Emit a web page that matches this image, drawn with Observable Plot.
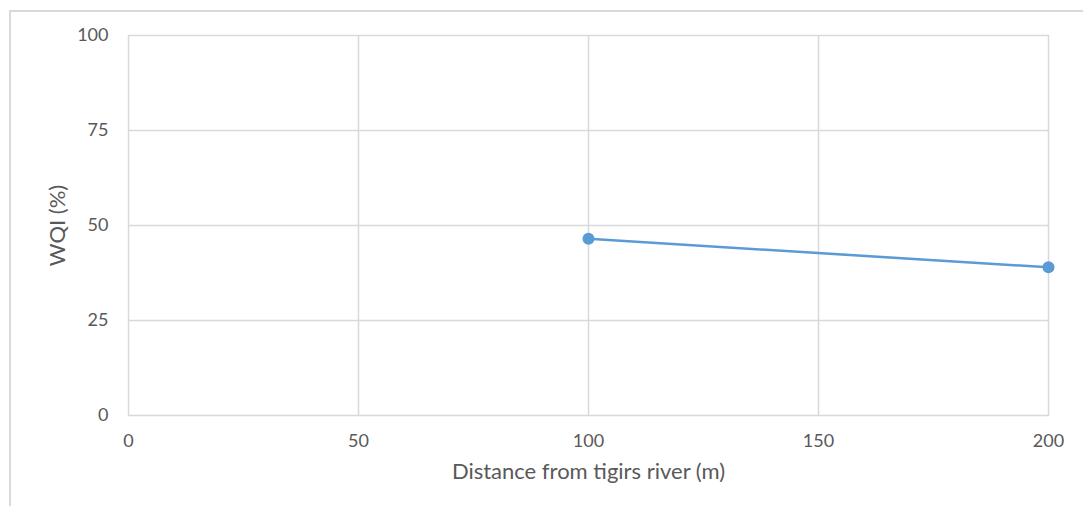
<!DOCTYPE html>
<html>
<head>
<meta charset="utf-8">
<script src="https://cdn.jsdelivr.net/npm/d3@7"></script>
<script src="https://cdn.jsdelivr.net/npm/@observablehq/plot@0.6"></script>
<style>
  html, body { margin: 0; padding: 0; background: #fff; }
  #wrap { position: relative; width: 1083px; height: 506px; overflow: hidden; }
  #border { position: absolute; left: 9px; top: 10px; right: -5px; bottom: -5px;
            border-left: 2px solid #d9d9d9; border-top: 2px solid #d9d9d9; pointer-events: none; }
  #chart { position: absolute; left: 0; top: 0; }
  #chart g[aria-label="x-axis label"] text,
  #chart g[aria-label="y-axis label"] text { font-size: 22px; }
</style>
</head>
<body>
<div id="wrap"><div id="chart"></div><div id="border"></div></div>
<script>
const distances = [100, 200];
const wqi = [46.5, 39];
const xTicks = [0, 50, 100, 150, 200];
const yTicks = [0, 25, 50, 75, 100];
const xLabel = "Distance from tigirs river (m)";
const yLabel = "WQI (%)";

const data = distances.map((d, i) => ({ d, v: wqi[i] }));
const font = "Lato, 'Open Sans', sans-serif";
const blue = "#5b9bd5";

const chart = Plot.plot({
  width: 1083,
  height: 506,
  marginLeft: 128,
  marginRight: 35,
  marginTop: 35,
  marginBottom: 91,
  style: { fontFamily: font, fontSize: "18px", color: "#595959", background: "transparent" },
  x: { domain: [0, 200], ticks: xTicks },
  y: { domain: [0, 100], ticks: yTicks },
  marks: [
    Plot.gridX(xTicks.slice(1, -1), { stroke: "#d9d9d9", strokeOpacity: 1, strokeWidth: 1.5 }),
    Plot.gridY(yTicks.slice(1, -1), { stroke: "#d9d9d9", strokeOpacity: 1, strokeWidth: 1.5 }),
    Plot.frame({ stroke: "#d9d9d9", strokeWidth: 1.5 }),
    Plot.axisX({ ticks: xTicks, tickSize: 0, tickPadding: 19, fontSize: 18,
      label: xLabel, labelAnchor: "center", labelOffset: 63, labelArrow: "none" }),
    Plot.axisY({ ticks: yTicks, tickSize: 0, tickPadding: 20, fontSize: 18,
      label: yLabel, labelAnchor: "center", labelOffset: 79, labelArrow: "none" }),
    Plot.line(data, { x: "d", y: "v", stroke: blue, strokeWidth: 2.5 }),
    Plot.dot(data, { x: "d", y: "v", r: 6, fill: blue, stroke: "none" })
  ]
});
document.getElementById("chart").appendChild(chart);
</script>
</body>
</html>
